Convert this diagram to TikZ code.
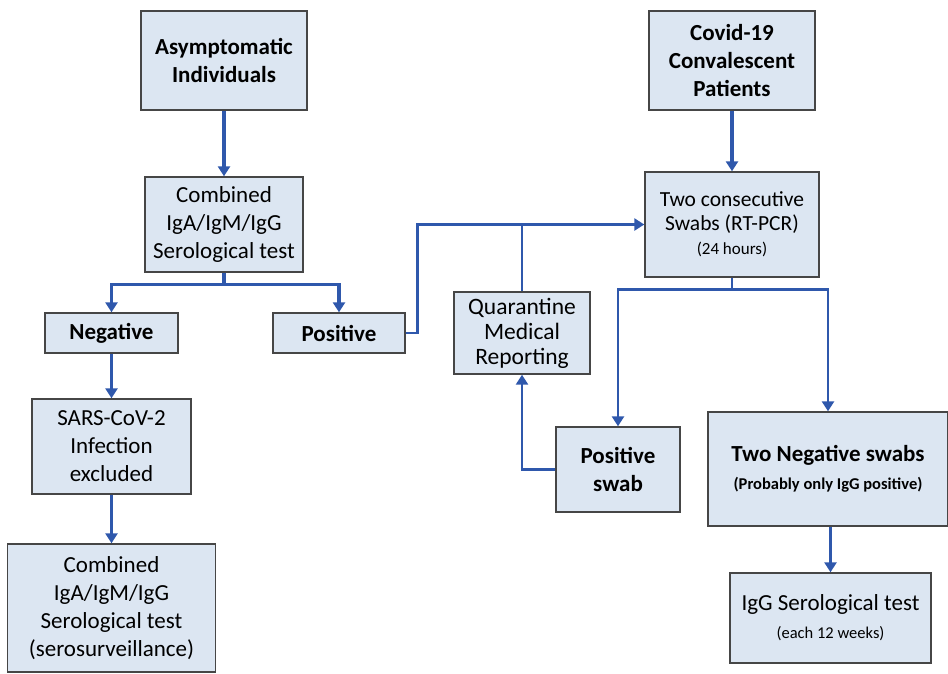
\documentclass[tikz,border=0pt]{standalone}
\usepackage{fontspec}
\setmainfont{Carlito}
\usetikzlibrary{arrows.meta}
\definecolor{boxfill}{RGB}{220,230,242}
\definecolor{boxline}{RGB}{70,70,70}
\definecolor{arrowblue}{RGB}{47,88,172}

\begin{document}
\begin{tikzpicture}[x=1pt,y=-1pt,inner sep=0pt,
  box/.style={draw=boxline,fill=boxfill,line width=1.4pt,align=center,font=\fontsize{23}{28}\selectfont},
  boldbox/.style={box,font=\fontsize{23}{28}\selectfont\bfseries},
  flow/.style={draw=arrowblue,line width=3.2pt,-{Triangle[length=10pt,width=12pt]}},
  thinflow/.style={flow,line width=2.6pt}]
\useasboundingbox (0,0) rectangle (948,673);
% left branch
\node[boldbox,minimum width=166pt,minimum height=99pt] (asym) at (224,60.5) {Asymptomatic\\Individuals};
\node[box,minimum width=158pt,minimum height=95pt] (comb) [below of = asym,node distance=164pt] {Combined\\IgA/IgM/IgG\\Serological test};
\node[boldbox,minimum width=133pt,minimum height=40pt] (neg) at (111.5,333) {Negative};
\node[boldbox,minimum width=132pt,minimum height=40pt] (pos) at (339,333) {Positive};
\node[box,minimum width=159pt,minimum height=95pt] (sars) [below of = neg,node distance=113.5pt] {SARS-CoV-2\\Infection\\excluded};
\node[box,minimum width=208pt,minimum height=128pt] (serosurv) [below of = sars,node distance=161.5pt] {Combined\\IgA/IgM/IgG\\Serological test\\(serosurveillance)};
% right branch
\node[boldbox,minimum width=166pt,minimum height=99pt] (covid) at (732,60.5) {Covid-19\\Convalescent\\Patients};
\node[box,minimum width=174pt,minimum height=105pt,font=\fontsize{21.5}{24}\selectfont] (swabs) [below of = covid,node distance=164pt] {Two consecutive\\Swabs (RT-PCR)\\{\fontsize{17}{22}\selectfont (24 hours)}};
\node[box,minimum width=136pt,minimum height=82pt,font=\fontsize{23.5}{25}\selectfont] (quar) at (522,333) {Quarantine\\Medical\\Reporting};
\node[boldbox,minimum width=124pt,minimum height=85pt] (posswab) at (618,469.5) {Positive\\swab};
\node[boldbox,minimum width=240pt,minimum height=114pt] (twoneg) at (828,469) {Two Negative swabs\\{\fontsize{16.5}{22}\selectfont (Probably only IgG positive)}};
\node[box,minimum width=201pt,minimum height=90pt] (iggtest) at (830.5,618) {IgG Serological test\\{\fontsize{16.5}{22}\selectfont (each 12 weeks)}};
% connectors
\path (asym) edge [flow] (comb);
\draw[flow] (comb.south) -- ++(0,12) -| (neg.north);
\draw[flow] (comb.south) -- ++(0,12) -| (pos.north);
\path (neg) edge [flow] (sars);
\path (sars) edge [flow] (serosurv);
\draw[thinflow] (pos.east) -- ++(12,0) |- (swabs.west);
\draw[arrowblue,line width=2.6pt] (quar.north) -- (quar.north |- swabs.west);
\draw[thinflow] (posswab.west) -| (quar.south);
\path (covid) edge [flow] (swabs);
\draw[thinflow] (swabs.south) -- ++(0,12) -| (posswab.north);
\draw[thinflow] (swabs.south) -- ++(0,12) -| (twoneg.north);
\draw[flow] (twoneg.south -| iggtest.north) -- (iggtest.north);
\end{tikzpicture}
\end{document}
